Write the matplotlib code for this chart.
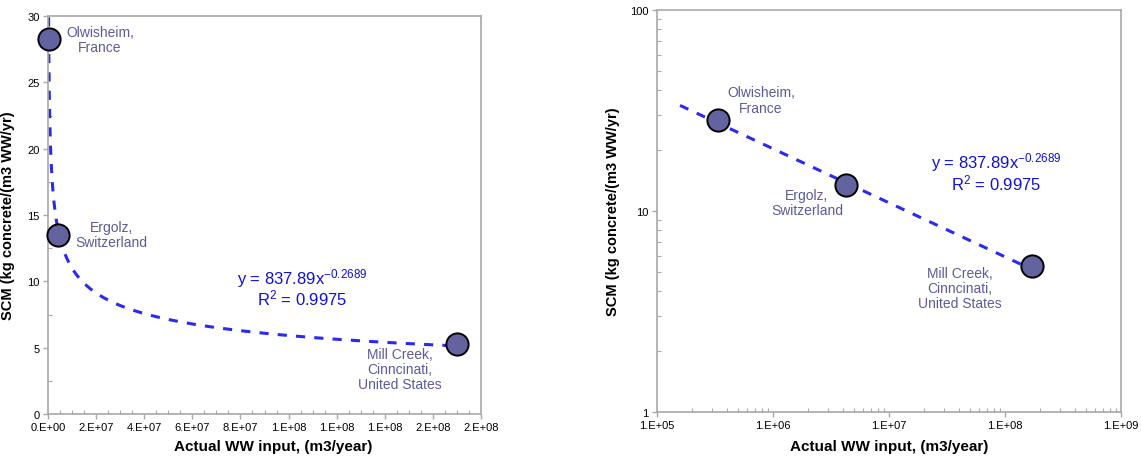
import matplotlib
matplotlib.use("Agg")
import matplotlib.pyplot as plt
import numpy as np
from matplotlib.ticker import MultipleLocator, FixedLocator, FixedFormatter, LogLocator, NullFormatter

plt.rcParams['font.family'] = ['Liberation Sans', 'DejaVu Sans']
plt.rcParams['mathtext.fontset'] = 'custom'
plt.rcParams['mathtext.rm'] = 'Liberation Sans'
plt.rcParams['mathtext.it'] = 'Liberation Sans'

# ---- data ----
sites = ["Olwisheim,\nFrance", "Ergolz,\nSwitzerland", "Mill Creek,\nCinncinati,\nUnited States"]
ww_input = [3.36e5, 4.3e6, 1.70e8]          # m3/year
scm = [28.3, 13.5, 5.3]                      # kg concrete/(m3 WW/yr)
fit_a = 837.89
fit_b = -0.2689
fit_range = [1.58e5, 1.70e8]
left_xticks = [0, 2e7, 4e7, 6e7, 8e7, 1.0e8, 1.2e8, 1.4e8, 1.6e8, 1.8e8]
left_xticklabels = ["0.E+00", "2.E+07", "4.E+07", "6.E+07", "8.E+07",
                    "1.E+08", "1.E+08", "1.E+08", "2.E+08", "2.E+08"]
left_yticks = [0, 5, 10, 15, 20, 25, 30]
right_xticks = [1e5, 1e6, 1e7, 1e8, 1e9]
right_xticklabels = ["1.E+05", "1.E+06", "1.E+07", "1.E+08", "1.E+09"]
right_yticks = [1, 10, 100]
right_yticklabels = ["1", "10", "100"]

W, H = 1141, 460
fig = plt.figure(figsize=(W / 100, H / 100), dpi=100)

def px_axes(l, r, t, b):
    return fig.add_axes([l / W, 1 - b / H, (r - l) / W, (b - t) / H])

axL = px_axes(48, 481, 17, 415)
axR = px_axes(657, 1121, 11, 413)

marker_fc = '#63649f'
label_col = '#5b5b99'
line_col = '#2a2af0'
eq_col = '#1010d8'
spine_col = '#a8a8a8'

xfit = np.geomspace(fit_range[0], fit_range[1], 400)
yfit = fit_a * xfit ** fit_b

for ax in (axL, axR):
    ax.plot(xfit, yfit, linestyle=(0, (3, 3)), color=line_col, lw=2.2, zorder=2)
    ax.plot(ww_input, scm, 'o', ms=16, mfc=marker_fc, mec='black', mew=1.4, zorder=3, clip_on=False)
    for s in ax.spines.values():
        s.set_color(spine_col)
        s.set_linewidth(1.2)
    ax.tick_params(which='both', colors=spine_col, labelcolor='black', labelsize=8, pad=2.5)
    ax.tick_params(which='major', direction='out', length=3.5, width=1)
    ax.tick_params(which='minor', direction='in', length=3, width=0.8)
    ax.set_xlabel("Actual WW input, (m3/year)", fontsize=11, fontweight='bold')
    ax.set_ylabel("SCM (kg concrete/(m3 WW/yr)", fontsize=10.5, fontweight='bold')

axL.yaxis.set_label_coords(-0.076, 0.5)
axR.yaxis.set_label_coords(-0.080, 0.5)
axL.xaxis.set_label_coords(0.52, -0.064)
axR.xaxis.set_label_coords(0.5, -0.066)

# left linear axes
axL.set_xlim(left_xticks[0], left_xticks[-1])
axL.set_ylim(left_yticks[0], left_yticks[-1])
axL.xaxis.set_major_locator(FixedLocator(left_xticks))
axL.xaxis.set_major_formatter(FixedFormatter(left_xticklabels))
axL.xaxis.set_minor_locator(MultipleLocator(5e6))
axL.yaxis.set_major_locator(FixedLocator(left_yticks))
axL.yaxis.set_minor_locator(MultipleLocator(2.5))

# right log axes
axR.set_xscale('log')
axR.set_yscale('log')
axR.set_xlim(right_xticks[0], right_xticks[-1])
axR.set_ylim(right_yticks[0], right_yticks[-1])
axR.xaxis.set_major_locator(FixedLocator(right_xticks))
axR.xaxis.set_major_formatter(FixedFormatter(right_xticklabels))
axR.xaxis.set_minor_locator(LogLocator(base=10, subs=np.arange(2, 10)))
axR.xaxis.set_minor_formatter(NullFormatter())
axR.yaxis.set_major_locator(FixedLocator(right_yticks))
axR.yaxis.set_major_formatter(FixedFormatter(right_yticklabels))
axR.yaxis.set_minor_locator(LogLocator(base=10, subs=np.arange(2, 10)))
axR.yaxis.set_minor_formatter(NullFormatter())

# labels
left_label_pos = [(0.120, 0.940), (0.1455, 0.450), (0.813, 0.113)]
right_label_pos = [(0.224, 0.776), (0.323, 0.522), (0.653, 0.308)]
for ax, positions in ((axL, left_label_pos), (axR, right_label_pos)):
    for name, (fx, fy) in zip(sites, positions):
        ax.text(fx, fy, name, transform=ax.transAxes, ha='center', va='center',
                fontsize=10, color=label_col, linespacing=1.1)

eq1 = "y = %.2fx$^{%.4f}$" % (fit_a, fit_b)
eq2 = "R$^{2}$ = 0.9975"
for ax, (fx, fy1, fy2) in ((axL, (0.587, 0.344, 0.294)), (axR, (0.731, 0.624, 0.572))):
    ax.text(fx, fy1, eq1, transform=ax.transAxes, ha='center', va='center', fontsize=12, color=eq_col)
    ax.text(fx, fy2, eq2, transform=ax.transAxes, ha='center', va='center', fontsize=12, color=eq_col)

fig.savefig("out.png", dpi=100)
